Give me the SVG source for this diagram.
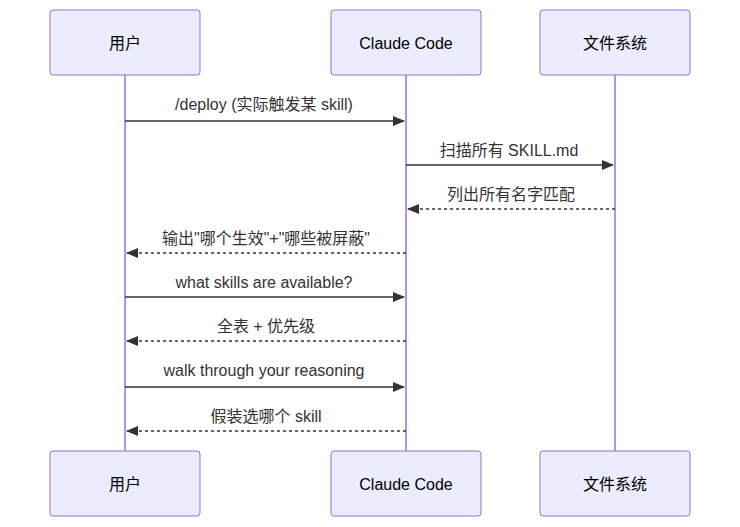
<svg xmlns="http://www.w3.org/2000/svg" width="740" height="527" viewBox="0 0 740 527">
<style>
.actor{fill:#ECECFF;stroke:#9370DB;stroke-width:1}
.atext{font-family:"Liberation Sans","Noto Sans CJK SC",sans-serif;font-size:16px;fill:#000;text-anchor:middle;dominant-baseline:central}
.life{stroke:#9370DB;stroke-width:1.5}
.msg{stroke:#333;stroke-width:1.5;fill:none}
.dash{stroke-dasharray:3,3}
.mtext{font-family:"Liberation Sans","Noto Sans CJK SC",sans-serif;font-size:16px;fill:#333;text-anchor:middle}
</style>
<defs>
<marker id="arrow" viewBox="0 0 12 10" refX="11" refY="5" markerWidth="12" markerHeight="10" markerUnits="userSpaceOnUse" orient="auto">
<path d="M0,0 L12,5 L0,10 z" fill="#333"/>
</marker>
</defs>
<g id="lifelines">
<line class="life" x1="125" y1="75" x2="125" y2="451"/>
<line class="life" x1="406" y1="75" x2="406" y2="451"/>
<line class="life" x1="615" y1="75" x2="615" y2="451"/>
</g>
<g id="actor-user-top"><rect class="actor" x="50" y="10" width="150" height="65" rx="3"/><text class="atext" x="125" y="43">用户</text></g>
<g id="actor-claude-top"><rect class="actor" x="331" y="10" width="150" height="65" rx="3"/><text class="atext" x="406" y="43">Claude Code</text></g>
<g id="actor-fs-top"><rect class="actor" x="540" y="10" width="150" height="65" rx="3"/><text class="atext" x="615" y="43">文件系统</text></g>
<g id="actor-user-bottom"><rect class="actor" x="50" y="451" width="150" height="65" rx="3"/><text class="atext" x="125" y="484">用户</text></g>
<g id="actor-claude-bottom"><rect class="actor" x="331" y="451" width="150" height="65" rx="3"/><text class="atext" x="406" y="484">Claude Code</text></g>
<g id="actor-fs-bottom"><rect class="actor" x="540" y="451" width="150" height="65" rx="3"/><text class="atext" x="615" y="484">文件系统</text></g>
<g id="connectors">
<line class="msg" x1="125" y1="121" x2="404" y2="121" marker-end="url(#arrow)"/>
<text class="mtext" x="264" y="110">/deploy (实际触发某 skill)</text>
<line class="msg" x1="406" y1="165" x2="613" y2="165" marker-end="url(#arrow)"/>
<text class="mtext" x="509" y="156">扫描所有 SKILL.md</text>
<line class="msg dash" x1="615" y1="209" x2="408" y2="209" marker-end="url(#arrow)"/>
<text class="mtext" x="511" y="200">列出所有名字匹配</text>
<line class="msg dash" x1="406" y1="253" x2="127" y2="253" marker-end="url(#arrow)"/>
<text class="mtext" x="266" y="244">输出"哪个生效"+"哪些被屏蔽"</text>
<line class="msg" x1="125" y1="297" x2="404" y2="297" marker-end="url(#arrow)"/>
<text class="mtext" x="264" y="288">what skills are available?</text>
<line class="msg dash" x1="406" y1="341" x2="127" y2="341" marker-end="url(#arrow)"/>
<text class="mtext" x="266" y="332">全表 + 优先级</text>
<line class="msg" x1="125" y1="387" x2="404" y2="387" marker-end="url(#arrow)"/>
<text class="mtext" x="264" y="376">walk through your reasoning</text>
<line class="msg dash" x1="406" y1="431" x2="127" y2="431" marker-end="url(#arrow)"/>
<text class="mtext" x="266" y="422">假装选哪个 skill</text>
</g>
</svg>
